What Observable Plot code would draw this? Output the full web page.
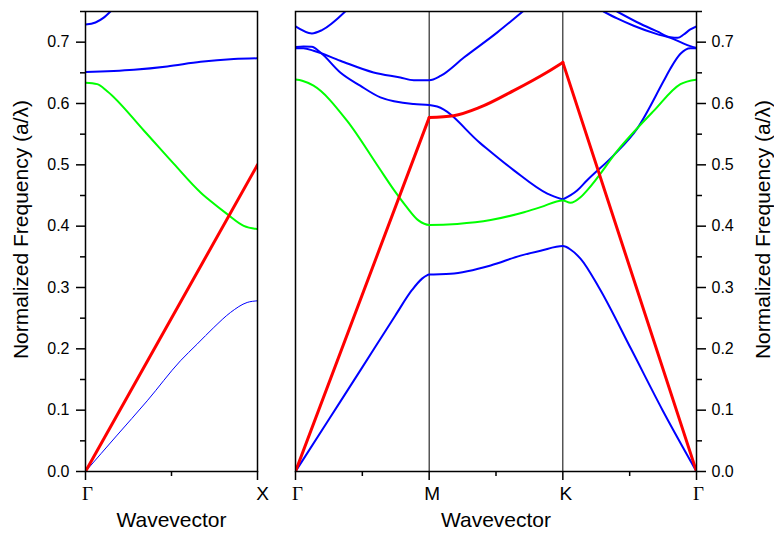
<!DOCTYPE html>
<html>
<head>
<meta charset="utf-8">
<script src="https://cdn.jsdelivr.net/npm/d3@7"></script>
<script src="https://cdn.jsdelivr.net/npm/@observablehq/plot@0.6"></script>
<style>
  body { margin: 0; background: #fff; }
  #wrap { position: relative; width: 774px; height: 541px; overflow: hidden; background: #fff; }
  #wrap svg { position: absolute; top: 0; }
</style>
</head>
<body>
<div id="wrap"></div>
<script>
// ---- tick labels / titles ----
const yMajor = [0, 0.1, 0.2, 0.3, 0.4, 0.5, 0.6, 0.7];
const yMinor = [0.05, 0.15, 0.25, 0.35, 0.45, 0.55, 0.65, 0.75];
const yTitle = "Normalized Frequency (a/λ)";
const xTitle = "Wavevector";
const gxTickPos = [0, 1];
const gxTickText = ["Γ", "X"];
const hexTickPos = [0, 1, 2, 3];
const hexTickText = ["Γ", "M", "K", "Γ"];

// ---- left panel (Γ–X), k in [0,1] ----
const gxRed = [[0, 0], [1, 0.5]];
const gxBand1 = [[0, 0], [0.18, 0.058], [0.359, 0.1153], [0.552, 0.1805], [0.649, 0.2077], [0.746, 0.2348], [0.843, 0.2593], [0.94, 0.2756], [1, 0.2783]];
const gxGreen = [[0, 0.634], [0.068, 0.6316], [0.126, 0.620], [0.339, 0.556], [0.514, 0.5015], [0.669, 0.455], [0.727, 0.441], [0.824, 0.4197], [0.92, 0.4006], [1, 0.3952]];
const gxBlueMid = [[0, 0.6515], [0.281, 0.655], [0.475, 0.6604], [0.669, 0.668], [0.862, 0.6724], [1, 0.6737]];
const gxBlueTop = [[0, 0.7287], [0.058, 0.7321], [0.106, 0.740], [0.145, 0.75]];

// ---- right panel (Γ–M–K–Γ), k index 0..3 ----
const hexRedGM = [[0, 0], [1, 0.577]];
const hexRedMK = [[1, 0.577], [1.183, 0.580], [1.382, 0.594], [1.632, 0.621], [1.882, 0.651], [2, 0.667]];
const hexRedKG = [[2, 0.667], [3, 0]];
const hexBand1 = [[0, 0], [0.247, 0.084], [0.497, 0.169], [0.747, 0.2544], [0.872, 0.296], [0.947, 0.3145], [0.98, 0.3195], [1, 0.321], [1.16, 0.3223], [1.46, 0.336], [1.684, 0.352], [1.834, 0.360], [2, 0.3675], [2.057, 0.362], [2.132, 0.347], [2.27, 0.30], [2.51, 0.20], [2.746, 0.10], [3, 0]];
const hexGreen = [[0, 0.639], [0.05, 0.637], [0.135, 0.629], [0.385, 0.572], [0.622, 0.496], [0.74, 0.458], [0.822, 0.434], [0.922, 0.409], [1, 0.402], [1.21, 0.4037], [1.46, 0.410], [1.71, 0.4228], [1.834, 0.431], [2, 0.442], [2.057, 0.438], [2.132, 0.447], [2.18, 0.458], [2.43, 0.5287], [2.68, 0.588], [2.88, 0.6317], [3, 0.639]];
const hexBandB = [[0, 0.690], [0.06, 0.690], [0.135, 0.686], [0.335, 0.6697], [0.584, 0.6506], [0.784, 0.6424], [0.885, 0.638], [1, 0.638], [1.085, 0.645], [1.26, 0.675], [1.51, 0.716], [1.70, 0.75]];
const hexBandC = [[0, 0.692], [0.06, 0.693], [0.122, 0.6925], [0.185, 0.6835], [0.335, 0.6506], [0.484, 0.629], [0.635, 0.610], [0.885, 0.599], [1, 0.5975], [1.06, 0.595], [1.384, 0.535], [1.634, 0.491], [1.884, 0.453], [2, 0.4435]];
const hexBandF = [[2, 0.4435], [2.107, 0.458], [2.18, 0.4745], [2.38, 0.5155], [2.556, 0.559], [2.755, 0.637], [2.805, 0.657], [2.88, 0.681], [2.954, 0.690], [3, 0.690]];
const hexBandA = [[0, 0.7257], [0.123, 0.7143], [0.198, 0.7197], [0.372, 0.75]];
const hexBandD = [[2.305, 0.75], [2.406, 0.7387], [2.53, 0.7268], [2.705, 0.7131], [2.805, 0.707], [2.88, 0.700], [2.954, 0.6935], [3, 0.6908]];
const hexBandE = [[2.406, 0.75], [2.58, 0.730], [2.705, 0.7175], [2.805, 0.708], [2.86, 0.707], [2.904, 0.7125], [2.954, 0.7207], [3, 0.7257]];

// ---- styling ----
const sans = "'Liberation Sans', Arial, Helvetica, sans-serif";
const serif = "'Liberation Serif', 'Times New Roman', serif";
const BLUE = "#0000ff", RED = "#ff0000", GREEN = "#00ff00";

function band(data, stroke, w, curve = "monotone-x") {
  return Plot.line(data, {x: d => d[0], y: d => d[1], stroke, strokeWidth: w, curve, clip: true, strokeLinejoin: "round"});
}
function tickLabels(pos, txt, which, family, size, dx) {
  const idx = pos.map((p, i) => i).filter(i => which(txt[i]));
  return Plot.text(idx, {x: i => pos[i], text: i => txt[i], frameAnchor: "bottom", dy: 28, dx, fontFamily: family, fontSize: size});
}
const isGamma = t => t === "Γ";

const wrap = document.getElementById("wrap");

const leftW = 275;
const leftPlot = Plot.plot({
  width: leftW, height: 541,
  marginLeft: 85, marginRight: leftW - 257, marginTop: 11, marginBottom: 70,
  style: {fontFamily: sans, fontSize: "16px", color: "#000", background: "none", overflow: "visible"},
  x: {domain: [0, 1]},
  y: {domain: [0, 0.75]},
  marks: [
    band(gxBlueTop, BLUE, 2),
    band(gxBlueMid, BLUE, 2),
    band(gxGreen, GREEN, 2),
    band(gxBand1, BLUE, 1),
    band(gxRed, RED, 3, "linear"),
    Plot.frame({stroke: "#000", strokeWidth: 1.5}),
    Plot.axisY(yMajor, {anchor: "left", tickSize: 9, tickPadding: 7, tickFormat: d3.format(".1f"), fontSize: 16, label: null, strokeWidth: 1.5}),
    Plot.axisY(yMinor, {anchor: "left", tickSize: 5, tickFormat: () => "", label: null, strokeWidth: 1.5}),
    Plot.axisX([0, 1], {anchor: "bottom", tickSize: 9, tickFormat: () => "", label: null, strokeWidth: 1.5}),
    Plot.axisX([0.5], {anchor: "bottom", tickSize: 5, tickFormat: () => "", label: null, strokeWidth: 1.5}),
    tickLabels(gxTickPos, gxTickText, isGamma, serif, 19, 2),
    tickLabels(gxTickPos, gxTickText, t => !isGamma(t), sans, 19, 5),
    Plot.text([xTitle], {text: d => d, frameAnchor: "bottom", dy: 55, fontSize: 21}),
    Plot.text([yTitle], {text: d => d, frameAnchor: "left", textAnchor: "middle", lineAnchor: "middle", dx: -64, dy: -12, rotate: -90, fontSize: 21})
  ]
});
leftPlot.style.left = "0px";
wrap.appendChild(leftPlot);

const rightX = 275, rightW = 499;
const rightPlot = Plot.plot({
  width: rightW, height: 541,
  marginLeft: 20, marginRight: 78, marginTop: 11, marginBottom: 70,
  style: {fontFamily: sans, fontSize: "16px", color: "#000", background: "none", overflow: "visible"},
  x: {domain: [0, 3]},
  y: {domain: [0, 0.75]},
  marks: [
    Plot.ruleX([1, 2], {stroke: "#000", strokeWidth: 1}),
    band(hexBandA, BLUE, 2),
    band(hexBandB, BLUE, 2),
    band(hexBandC, BLUE, 2),
    band(hexBandD, BLUE, 2),
    band(hexBandE, BLUE, 2),
    band(hexBandF, BLUE, 2),
    band(hexBand1, BLUE, 2),
    band(hexGreen, GREEN, 2),
    band(hexRedGM, RED, 3, "linear"),
    band(hexRedMK, RED, 3),
    band(hexRedKG, RED, 3, "linear"),
    Plot.frame({stroke: "#000", strokeWidth: 1.5}),
    Plot.axisY(yMajor, {anchor: "right", tickSize: 9, tickPadding: 6, tickFormat: d3.format(".1f"), fontSize: 16, label: null, strokeWidth: 1.5}),
    Plot.axisY(yMinor, {anchor: "right", tickSize: 5, tickFormat: () => "", label: null, strokeWidth: 1.5}),
    Plot.axisX(hexTickPos, {anchor: "bottom", tickSize: 9, tickFormat: () => "", label: null, strokeWidth: 1.5}),
    Plot.axisX([0.5, 1.5, 2.5], {anchor: "bottom", tickSize: 5, tickFormat: () => "", label: null, strokeWidth: 1.5}),
    tickLabels(hexTickPos, hexTickText, isGamma, serif, 19, 2),
    tickLabels(hexTickPos, hexTickText, t => !isGamma(t), sans, 19, 3),
    Plot.text([xTitle], {text: d => d, frameAnchor: "bottom", dy: 55, fontSize: 21}),
    Plot.text([yTitle], {text: d => d, frameAnchor: "right", textAnchor: "middle", lineAnchor: "middle", dx: 67, dy: -12, rotate: -90, fontSize: 21})
  ]
});
rightPlot.style.left = rightX + "px";
wrap.appendChild(rightPlot);
</script>
</body>
</html>
